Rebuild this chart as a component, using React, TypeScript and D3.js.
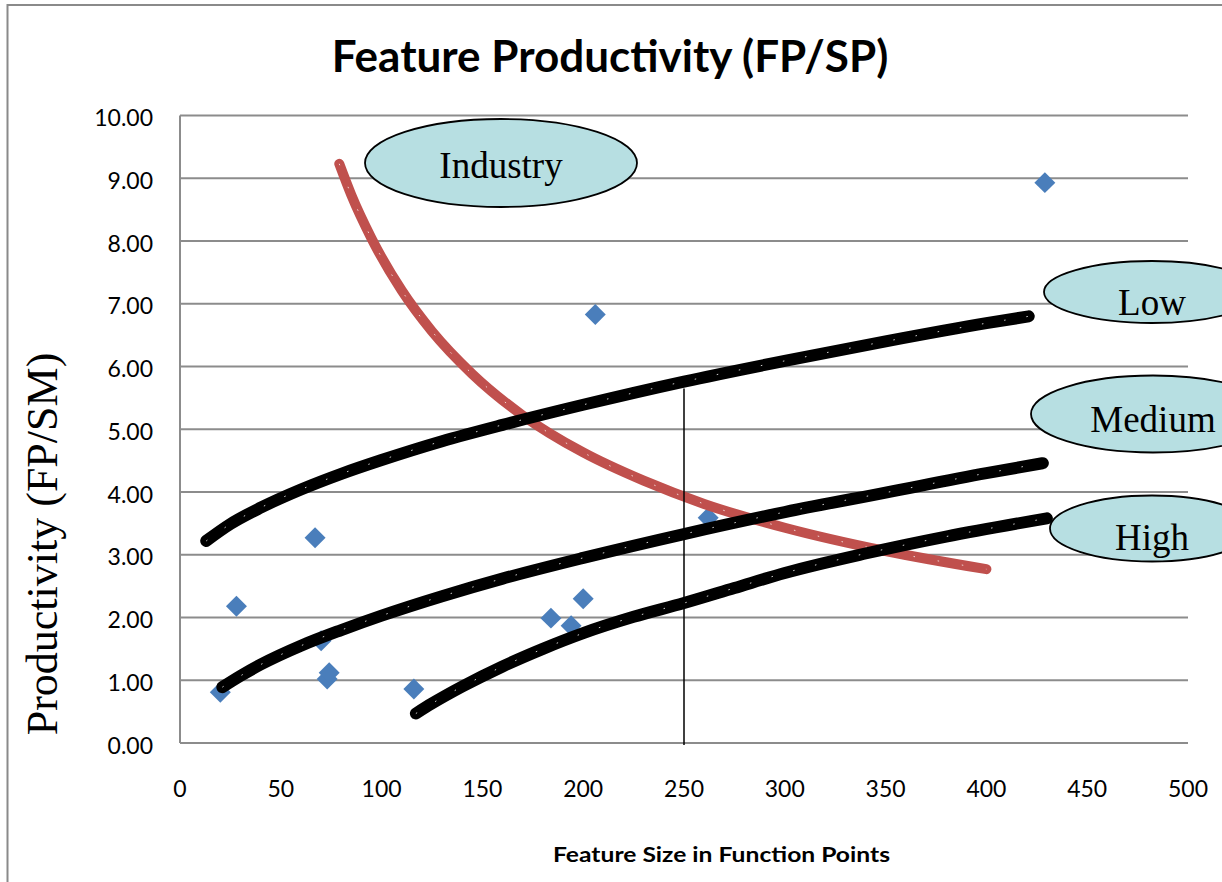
import React from "react";
import * as d3 from "d3";

// ---- data ----
const xTicks = [0, 50, 100, 150, 200, 250, 300, 350, 400, 450, 500];
const yTicks = [0, 1, 2, 3, 4, 5, 6, 7, 8, 9, 10];

const featureSize = [20, 28, 67, 70, 73, 74, 116, 184, 194, 200, 206, 262, 429];
const productivity = [0.81, 2.18, 3.27, 1.63, 1.02, 1.12, 0.86, 1.99, 1.87, 2.3, 6.83, 3.59, 8.93];

const industryX = [79, 85, 95, 110, 125, 145, 170, 200, 230, 260, 300, 350, 400];
const industryY = [9.23, 8.73, 8.04, 7.21, 6.56, 5.88, 5.22, 4.63, 4.18, 3.81, 3.43, 3.06, 2.77];

const lowX = [13, 25, 40, 60, 80, 100, 130, 160, 200, 250, 300, 350, 400, 421];
const lowY = [3.22, 3.49, 3.75, 4.04, 4.29, 4.51, 4.81, 5.07, 5.39, 5.76, 6.09, 6.4, 6.69, 6.8];

const mediumX = [21, 30, 40, 60, 80, 100, 130, 160, 200, 250, 300, 350, 400, 428];
const mediumY = [0.89, 1.07, 1.25, 1.55, 1.8, 2.03, 2.34, 2.62, 2.95, 3.33, 3.68, 3.99, 4.3, 4.46];

const highX = [117, 125, 140, 160, 180, 200, 225, 250, 275, 300, 340, 380, 430];
const highY = [0.47, 0.63, 0.9, 1.22, 1.5, 1.75, 2.01, 2.23, 2.47, 2.71, 3.02, 3.29, 3.58];

const refLineX = 250;
const refLineTop = 5.65;

const labels = ["Industry", "Low", "Medium", "High"];

// ---- layout ----
const W = 1222;
const H = 882;
const x = d3.scaleLinear().domain([0, 500]).range([180, 1188]);
const y = d3.scaleLinear().domain([0, 10]).range([743, 115.5]);

const callouts = [
  { cx: 501, cy: 163, rx: 136, ry: 44, tx: 501, ty: 178 },
  { cx: 1152, cy: 292, rx: 108, ry: 31, tx: 1152, ty: 315 },
  { cx: 1153, cy: 414, rx: 122, ry: 38.5, tx: 1153, ty: 432 },
  { cx: 1152, cy: 528.5, rx: 102, ry: 33, tx: 1152, ty: 550 },
];

const sans = "Lato, 'Open Sans', sans-serif";
const serif = "'Liberation Serif', 'Times New Roman', serif";

function zip(xs: number[], ys: number[]): [number, number][] {
  return xs.map((v, i) => [v, ys[i]]);
}

const line = d3
  .line<[number, number]>()
  .x((d) => x(d[0]))
  .y((d) => y(d[1]))
  .curve(d3.curveMonotoneX);

export default function App() {
  const diamond = d3.symbol().type(d3.symbolDiamond2).size(280)() as string;
  const trends = [zip(lowX, lowY), zip(mediumX, mediumY), zip(highX, highY)];
  const industry = zip(industryX, industryY);
  return (
    <svg
      width={W}
      height={H}
      style={{ position: "absolute", left: 0, top: 0, background: "#fff" }}
    >
      {/* frame */}
      <rect x={7.5} y={5} width={1300} height={1000} fill="#fff" stroke="#8a8a8a" strokeWidth={2} />

      {/* title */}
      <text x={610} y={72} textAnchor="middle" fontFamily={sans} fontWeight="bold" fontSize={44} fill="#000">
        Feature Productivity (FP/SP)
      </text>

      {/* gridlines */}
      {yTicks.map((t) => (
        <line key={"g" + t} x1={x(0)} x2={x(500)} y1={y(t)} y2={y(t)} stroke="#8c8c8c" strokeWidth={2} />
      ))}
      <line x1={x(0)} x2={x(0)} y1={y(10)} y2={y(0)} stroke="#8c8c8c" strokeWidth={2} />

      {/* y tick labels */}
      {yTicks.map((t) => (
        <text key={"yt" + t} x={153} y={y(t) + 10.5} textAnchor="end" fontFamily={sans} fontSize={23} fill="#000">
          {t.toFixed(2)}
        </text>
      ))}
      {/* x tick labels */}
      {xTicks.map((t) => (
        <text key={"xt" + t} x={x(t)} y={797} textAnchor="middle" fontFamily={sans} fontSize={23} fill="#000">
          {t}
        </text>
      ))}

      {/* axis titles */}
      <text
        x={721.5}
        y={862}
        textAnchor="middle"
        fontFamily={sans}
        fontWeight="bold"
        fontSize={21}
        textLength={337}
        lengthAdjust="spacingAndGlyphs"
        fill="#000"
      >
        Feature Size in Function Points
      </text>
      <text
        transform="translate(57,544) rotate(-90)"
        textAnchor="middle"
        fontFamily={serif}
        fontSize={44}
        fill="#000"
      >
        Productivity (FP/SM)
      </text>

      {/* scatter */}
      {featureSize.map((v, i) => (
        <path key={"p" + i} d={diamond} transform={`translate(${x(v)},${y(productivity[i])})`} fill="#4a7ebb" />
      ))}

      {/* industry curve */}
      <path d={line(industry) || ""} fill="none" stroke="#c0504d" strokeWidth={10} strokeLinecap="round" strokeLinejoin="round" />
      <path d={line(industry) || ""} fill="none" stroke="#fff" strokeWidth={1} strokeDasharray="1.5 23" opacity={0.75} />

      {/* trend curves */}
      {trends.map((pts, i) => (
        <g key={"tr" + i}>
          <path d={line(pts) || ""} fill="none" stroke="#000" strokeWidth={12} strokeLinecap="round" strokeLinejoin="round" />
          <path d={line(pts) || ""} fill="none" stroke="#fff" strokeWidth={1} strokeDasharray="1.5 21" opacity={0.8} />
        </g>
      ))}

      {/* reference line */}
      <line x1={x(refLineX)} x2={x(refLineX)} y1={y(refLineTop)} y2={y(0) + 2} stroke="#000" strokeWidth={1.5} />

      {/* callouts */}
      {callouts.map((c, i) => (
        <g key={"c" + i}>
          <ellipse cx={c.cx} cy={c.cy} rx={c.rx} ry={c.ry} fill="#b7dfe2" stroke="#000" strokeWidth={1.8} />
          <text x={c.tx} y={c.ty} textAnchor="middle" fontFamily={serif} fontSize={37} fill="#000">
            {labels[i]}
          </text>
        </g>
      ))}
    </svg>
  );
}
